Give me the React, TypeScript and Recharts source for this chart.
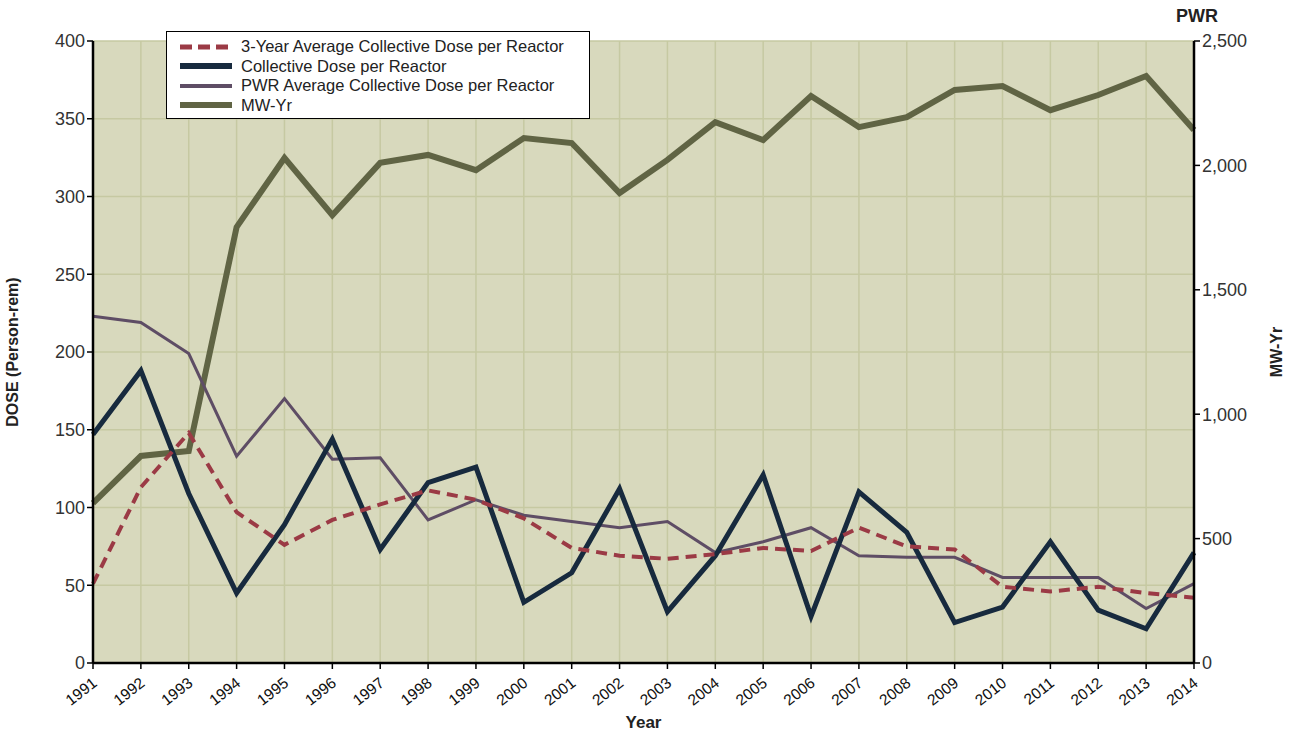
import { LineChart, Line, XAxis, YAxis, CartesianGrid } from 'recharts'

const years = ['1991', '1992', '1993', '1994', '1995', '1996', '1997', '1998', '1999', '2000', '2001', '2002',
  '2003', '2004', '2005', '2006', '2007', '2008', '2009', '2010', '2011', '2012', '2013', '2014']
const collectiveDose = [147, 188, 109, 45, 89, 144, 73, 116, 126, 39, 58, 112, 33, 69, 121, 30, 110, 84, 26, 36, 78, 34, 22, 71]
const threeYearAvg = [51, 113, 148, 97, 76, 92, 102, 111, 105, 93, 74, 69, 67, 70, 74, 72, 87, 75, 73, 49, 46, 49, 45, 42]
const pwrAvg = [223, 219, 199, 133, 170, 131, 132, 92, 105, 95, 91, 87, 91, 71, 78, 87, 69, 68, 68, 55, 55, 55, 35, 51]
const mwYr = [643, 832, 852, 1752, 2030, 1800, 2010, 2042, 1981, 2110, 2090, 1889, 2022, 2174, 2102, 2279, 2154, 2194,
  2303, 2319, 2222, 2283, 2359, 2142]
const leftTicks = [0, 50, 100, 150, 200, 250, 300, 350, 400]
const rightTicks = [0, 500, 1000, 1500, 2000, 2500]

const data = years.map((y, i) => ({
  year: y,
  avg3: threeYearAvg[i],
  dose: collectiveDose[i],
  pwr: pwrAvg[i],
  mw: mwYr[i],
}))

const font = 'Arial, "Liberation Sans", sans-serif'

const legendItems = [
  { label: '3-Year Average Collective Dose per Reactor', color: '#9b3a45', width: 5, dash: '12 6' },
  { label: 'Collective Dose per Reactor', color: '#172a3e', width: 6, dash: undefined },
  { label: 'PWR Average Collective Dose per Reactor', color: '#5e4d65', width: 4, dash: undefined },
  { label: 'MW-Yr', color: '#606444', width: 6, dash: undefined },
]

function LegendBox() {
  return (
    <div style={{ position: 'absolute', left: 166, top: 31, width: 424, height: 88, boxSizing: 'border-box', background: '#fff', border: '1.5px solid #000', padding: '5px 0 0 13px', fontFamily: font, fontSize: 16.5, color: '#222', lineHeight: '19.5px' }}>
      {legendItems.map((it) => (
        <div key={it.label} style={{ display: 'flex', alignItems: 'center', whiteSpace: 'nowrap' }}>
          <svg width={52} height={10} style={{ marginRight: 9 }}>
            <line x1={0} y1={5} x2={52} y2={5} stroke={it.color} strokeWidth={it.width} strokeDasharray={it.dash} />
          </svg>
          <span>{it.label}</span>
        </div>
      ))}
    </div>
  )
}

function YearTick(props: any) {
  const { x, y, payload } = props
  return (
    <text x={x + 5} y={y + 14} transform={`rotate(-38 ${x + 5} ${y + 14})`} textAnchor="end" fontSize={15.5} fontFamily={font} fill="#111">
      {payload.value}
    </text>
  )
}

export default function App() {
  return (
    <div style={{ position: 'absolute', left: 0, top: 0, width: 1291, height: 733, background: '#fff' }}>
      <LineChart width={1291} height={733} data={data} margin={{ top: 41, right: 37, left: 33, bottom: 0 }}>
        <CartesianGrid yAxisId="left" stroke="#c6c9a2" strokeWidth={1.5} fill="#d8d9bd" fillOpacity={1} />
        <XAxis
          dataKey="year"
          interval={0}
          tick={<YearTick />}
          axisLine={{ stroke: '#000', strokeWidth: 2.5 }}
          tickLine={{ stroke: '#000', strokeWidth: 1.5 }}
          tickSize={6}
          height={70}
          label={{ value: 'Year', position: 'insideBottom', offset: 0, dy: -5, fontSize: 17, fontWeight: 'bold', fontFamily: font, fill: '#222' }}
        />
        <YAxis
          yAxisId="left"
          domain={[0, 400]}
          ticks={leftTicks}
          width={60}
          axisLine={{ stroke: '#000', strokeWidth: 2.5 }}
          tickLine={{ stroke: '#000', strokeWidth: 1.5 }}
          tickSize={6}
          tick={{ fontSize: 18, fontFamily: font, fill: '#333' }}
          label={{ value: 'DOSE (Person-rem)', angle: -90, position: 'insideLeft', dx: -26, dy: 0, style: { textAnchor: 'middle' }, fontSize: 16, fontWeight: 'bold', fontFamily: font, fill: '#222' }}
        />
        <YAxis
          yAxisId="right"
          orientation="right"
          domain={[0, 2500]}
          ticks={rightTicks}
          width={60}
          tickFormatter={(v: number) => v.toLocaleString('en-US')}
          axisLine={{ stroke: '#000', strokeWidth: 2.5 }}
          tickLine={{ stroke: '#000', strokeWidth: 1.5 }}
          tickSize={6}
          tick={{ fontSize: 18, fontFamily: font, fill: '#333' }}
          label={{ value: 'MW-Yr', angle: -90, position: 'insideRight', dx: 27, style: { textAnchor: 'middle' }, fontSize: 16, fontWeight: 'bold', fontFamily: font, fill: '#222' }}
        />
        <Line yAxisId="right" dataKey="mw" stroke="#606444" strokeWidth={6} dot={false} isAnimationActive={false} />
        <Line yAxisId="left" dataKey="pwr" stroke="#5e4d65" strokeWidth={3} dot={false} isAnimationActive={false} />
        <Line yAxisId="left" dataKey="dose" stroke="#172a3e" strokeWidth={5} dot={false} isAnimationActive={false} />
        <Line yAxisId="left" dataKey="avg3" stroke="#9b3a45" strokeWidth={4} strokeDasharray="11 7" dot={false} isAnimationActive={false} />
        <text x={1197} y={22} textAnchor="middle" fontSize={18} fontWeight="bold" fontFamily={font} fill="#222">PWR</text>
      </LineChart>
      <LegendBox />
    </div>
  )
}
